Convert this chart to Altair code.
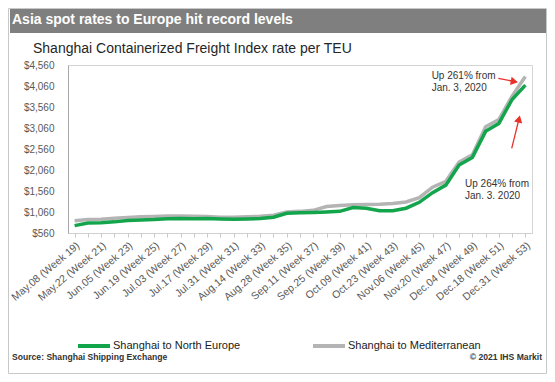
import json
import altair as alt
import pandas as pd

# ---------------- data ----------------
weeks = list(range(19, 54))
north_europe = [735, 800, 805, 825, 855, 870, 880, 900, 905, 900,
                905, 895, 890, 895, 905, 935, 1030, 1040, 1050, 1060,
                1075, 1165, 1150, 1090, 1090, 1150, 1290, 1520, 1700, 2180,
                2360, 2980, 3170, 3740, 4081]
mediterranean = [850, 880, 890, 910, 930, 945, 955, 965, 965, 960,
                 950, 935, 935, 945, 960, 985, 1060, 1075, 1100, 1190,
                 1215, 1235, 1240, 1245, 1260, 1300, 1400, 1650, 1790, 2250,
                 2420, 3090, 3260, 3820, 4288]
series_names = ["Shanghai to North Europe", "Shanghai to Mediterranean"]
series_colors = ["#12a54c", "#b4b4b4"]

label_dates = ["May.08", "May.22", "Jun.05", "Jun.19", "Jul.03", "Jul.17",
               "Jul.31", "Aug.14", "Aug.28", "Sep.11", "Sep.25", "Oct.09",
               "Oct.23", "Nov.06", "Nov.20", "Dec.04", "Dec.18", "Dec.31"]
label_weeks = list(range(19, 54, 2))
y_ticks = list(range(560, 4561, 500))

# annotations (data units: week, rate)
ann_text = ["Up 261% from", "Jan. 3, 2020", "Up 264% from", "Jan. 3. 2020"]
ann_week = [45.93, 45.93, 48.45, 48.45]
ann_rate = [4298, 4020, 1720, 1448]
arrow_week = [50.96, 51.97]
arrow_rate = [4243, 2577]
arrow_head_week = [52.17, 52.52]
arrow_head_rate = [4167, 3274]
arrow_angle = [101, 14]

title_text = "Asia spot rates to Europe hit record levels"
subtitle_text = "Shanghai Containerized Freight Index rate per TEU"
source_text = "Source: Shanghai Shipping Exchange"
copyright_text = "\u00a9 2021 IHS Markit"

FONT = "Liberation Sans"

# ---------------- tables ----------------
df = pd.DataFrame({
    "week": weeks * 2,
    "rate": north_europe + mediterranean,
    "series": [series_names[0]] * len(weeks) + [series_names[1]] * len(weeks),
})
label_map = {w: f"{d} (Week {w})" for w, d in zip(label_weeks, label_dates)}
label_arr = [label_map.get(w, "") for w in weeks]
label_expr = json.dumps(label_arr) + "[datum.value - 19] || ''"

x_scale = alt.Scale(domain=[18.5, 53.5], nice=False, zero=False)
y_scale = alt.Scale(domain=[560, 4560], nice=False, zero=False)

color = alt.Color(
    "series:N",
    scale=alt.Scale(domain=series_names, range=series_colors),
    legend=alt.Legend(
        orient="none", legendX=8, legendY=263, direction="horizontal",
        title=None, symbolType="stroke", symbolStrokeWidth=4, symbolSize=1024,
        labelFontSize=11, labelFont=FONT, labelColor="#1a1a1a",
        labelOffset=1, columnPadding=64, labelLimit=300,
    ),
)

x_axis = alt.Axis(
    values=weeks, labelExpr=label_expr, labelAngle=-40, labelAlign="right",
    labelBaseline="top", labelPadding=3, tickSize=4, tickColor="#c8c8c8",
    domainColor="#d0d0d0", grid=False, title=None, labelFontSize=10.5,
    labelFont=FONT, labelColor="#595959", labelOverlap=False,
    labelBound=False, labelFlush=False,
)
y_axis = alt.Axis(
    values=y_ticks, format="$,.0f", grid=False, ticks=False,
    domainColor="#a8a8a8", labelPadding=14, labelFontSize=10,
    labelFont=FONT, labelColor="#595959", title=None, labelOverlap=False,
    labelBound=False, labelFlush=False,
)
x_enc = alt.X("week:Q", scale=x_scale, axis=x_axis)
y_enc = alt.Y("rate:Q", scale=y_scale, axis=y_axis)

base = alt.Chart(df)
med_line = base.transform_filter(
    alt.datum.series == series_names[1]
).mark_line(strokeWidth=3.5).encode(x=x_enc, y=y_enc, color=color)
ne_line = base.transform_filter(
    alt.datum.series == series_names[0]
).mark_line(strokeWidth=3.5).encode(x=x_enc, y=y_enc, color=color)

ann_df = pd.DataFrame({"week": ann_week, "rate": ann_rate, "text": ann_text})
ann = alt.Chart(ann_df).mark_text(
    align="left", baseline="middle", fontSize=10, font=FONT, color="#333333"
).encode(x=alt.X("week:Q", scale=x_scale, axis=x_axis),
         y=alt.Y("rate:Q", scale=y_scale, axis=y_axis), text="text:N")

arr_df = pd.DataFrame({"week": arrow_week, "rate": arrow_rate,
                       "w1": arrow_head_week, "r1": arrow_head_rate,
                       "ang": arrow_angle})
arrows = alt.Chart(arr_df).mark_rule(color="#e8312a", strokeWidth=1.3).encode(
    x=alt.X("week:Q", scale=x_scale, axis=x_axis),
    y=alt.Y("rate:Q", scale=y_scale, axis=y_axis),
    x2="w1:Q", y2="r1:Q")
heads = alt.Chart(arr_df).mark_point(
    shape="triangle-up", filled=True, color="#e8312a", opacity=1, size=70
).encode(x=alt.X("w1:Q", scale=x_scale, axis=x_axis),
         y=alt.Y("r1:Q", scale=y_scale, axis=y_axis),
         angle=alt.Angle("ang:Q", scale=None))

one = pd.DataFrame({"k": [0]})
frame = alt.Chart(one).mark_rect(filled=False, stroke="#c8c8c8", strokeWidth=1).encode(
    x=alt.value(-59.5), x2=alt.value(478.5), y=alt.value(-56.5), y2=alt.value(308.5))
title_bar = alt.Chart(one).mark_rect(color="#7f7f7f").encode(
    x=alt.value(-58), x2=alt.value(478), y=alt.value(-56), y2=alt.value(-32))
title = alt.Chart(one).mark_text(
    align="left", baseline="middle", fontSize=14, fontWeight="bold",
    font=FONT, color="white").encode(
    x=alt.value(-56), y=alt.value(-45), text=alt.value(title_text))
subtitle = alt.Chart(one).mark_text(
    align="left", baseline="middle", fontSize=14, font=FONT, color="#262626").encode(
    x=alt.value(-35), y=alt.value(-16), text=alt.value(subtitle_text))
source = alt.Chart(one).mark_text(
    align="left", baseline="middle", fontSize=8.6, fontWeight="bold",
    font=FONT, color="#333333").encode(
    x=alt.value(-56), y=alt.value(292), text=alt.value(source_text))
copyright_ = alt.Chart(one).mark_text(
    align="right", baseline="middle", fontSize=8.6, fontWeight="bold",
    font=FONT, color="#333333").encode(
    x=alt.value(474), y=alt.value(292), text=alt.value(copyright_text))

chart = alt.layer(
    frame, title_bar, title, subtitle, med_line, ne_line, ann, arrows, heads,
    source, copyright_,
).properties(
    width=464, height=168,
    autosize=alt.AutoSizeParams(type="none"),
    padding={"left": 60, "top": 57, "right": 15, "bottom": 141},
    background="white",
).configure_view(
    stroke="#d4d4d4", strokeWidth=1
).configure_axis(labelOverlap=False)

chart.save("out.html", embed_options={"renderer": "svg", "actions": False})
